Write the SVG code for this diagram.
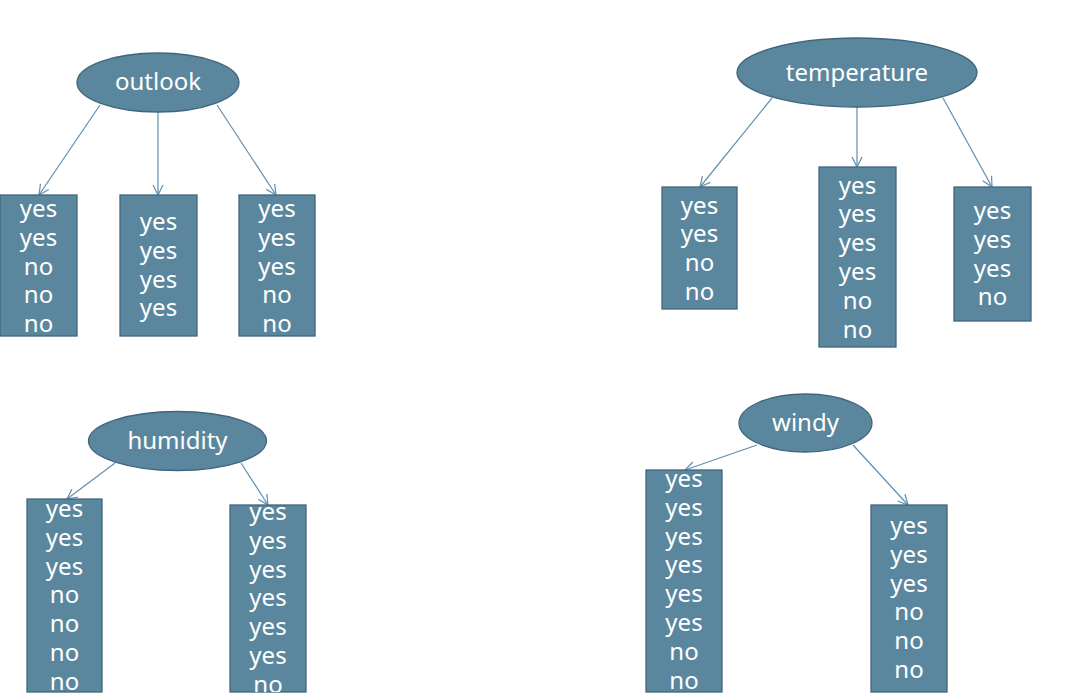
<svg xmlns="http://www.w3.org/2000/svg" width="1070" height="699" viewBox="0 0 1070 699">
<style>
.nd{fill:#5a879e;stroke:#41657c;stroke-width:1.3}
.t{font-family:"Noto Sans","Open Sans","DejaVu Sans",sans-serif;font-size:24px;fill:#ffffff;text-anchor:middle}
.c{stroke:#5e8fae;stroke-width:1.2;fill:none;marker-end:url(#ah)}
</style>
<defs>
<marker id="ah" viewBox="0 0 12 12" refX="11" refY="6" markerWidth="12" markerHeight="12" markerUnits="userSpaceOnUse" orient="auto">
<path d="M1,1 L11,6 L1,11" fill="none" stroke="#5e8fae" stroke-width="1.2"/>
</marker>
<clipPath id="clipH2"><rect x="230" y="505" width="76" height="187"/></clipPath>
<clipPath id="clipW1"><rect x="646" y="470" width="76" height="222"/></clipPath>
</defs>
<rect width="1070" height="699" fill="#ffffff"/>
<g id="connectors">
<line class="c" x1="100" y1="105" x2="39" y2="195"/>
<line class="c" x1="158" y1="112" x2="158" y2="195"/>
<line class="c" x1="217" y1="105" x2="276" y2="195"/>
<line class="c" x1="772" y1="98" x2="700" y2="187"/>
<line class="c" x1="857" y1="107" x2="857" y2="167"/>
<line class="c" x1="943" y1="98" x2="992" y2="187"/>
<line class="c" x1="115" y1="463" x2="67" y2="499"/>
<line class="c" x1="241" y1="463" x2="268" y2="505"/>
<line class="c" x1="757" y1="445" x2="685" y2="470"/>
<line class="c" x1="853" y1="445" x2="908" y2="505"/>
</g>
<g id="outlook"><ellipse class="nd" cx="158" cy="82.5" rx="81" ry="29.5"/><text class="t" x="158" y="90">outlook</text></g>
<g id="outlook-1"><rect class="nd" x="0" y="195" width="77" height="141"/>
<text class="t" x="38.5" y="217">yes</text><text class="t" x="38.5" y="245.8">yes</text><text class="t" x="38.5" y="274.6">no</text><text class="t" x="38.5" y="303.4">no</text><text class="t" x="38.5" y="332">no</text></g>
<g id="outlook-2"><rect class="nd" x="120" y="195" width="77" height="141"/>
<text class="t" x="158.5" y="230">yes</text><text class="t" x="158.5" y="258.8">yes</text><text class="t" x="158.5" y="287.6">yes</text><text class="t" x="158.5" y="316.4">yes</text></g>
<g id="outlook-3"><rect class="nd" x="239" y="195" width="76" height="141"/>
<text class="t" x="277" y="217">yes</text><text class="t" x="277" y="245.8">yes</text><text class="t" x="277" y="274.6">yes</text><text class="t" x="277" y="303.4">no</text><text class="t" x="277" y="332">no</text></g>
<g id="temperature"><ellipse class="nd" cx="857" cy="72.5" rx="120" ry="34.5"/><text class="t" x="857" y="80.5">temperature</text></g>
<g id="temperature-1"><rect class="nd" x="662" y="187" width="75" height="122"/>
<text class="t" x="699.5" y="213.5">yes</text><text class="t" x="699.5" y="242.3">yes</text><text class="t" x="699.5" y="271.1">no</text><text class="t" x="699.5" y="299.9">no</text></g>
<g id="temperature-2"><rect class="nd" x="819" y="167" width="77" height="180"/>
<text class="t" x="857.5" y="193.5">yes</text><text class="t" x="857.5" y="222.3">yes</text><text class="t" x="857.5" y="251.1">yes</text><text class="t" x="857.5" y="279.9">yes</text><text class="t" x="857.5" y="308.7">no</text><text class="t" x="857.5" y="337.5">no</text></g>
<g id="temperature-3"><rect class="nd" x="954" y="187" width="77" height="134"/>
<text class="t" x="992.5" y="219">yes</text><text class="t" x="992.5" y="247.8">yes</text><text class="t" x="992.5" y="276.6">yes</text><text class="t" x="992.5" y="305.4">no</text></g>
<g id="humidity"><ellipse class="nd" cx="177.5" cy="441" rx="89" ry="29.5"/><text class="t" x="177.5" y="448.5">humidity</text></g>
<g id="humidity-1"><rect class="nd" x="27" y="499" width="75" height="193"/>
<text class="t" x="64.5" y="517">yes</text><text class="t" x="64.5" y="545.8">yes</text><text class="t" x="64.5" y="574.6">yes</text><text class="t" x="64.5" y="603.4">no</text><text class="t" x="64.5" y="632.2">no</text><text class="t" x="64.5" y="661">no</text><text class="t" x="64.5" y="689.5">no</text></g>
<g id="humidity-2"><rect class="nd" x="230" y="505" width="76" height="187"/>
<g clip-path="url(#clipH2)"><text class="t" x="268" y="520">yes</text><text class="t" x="268" y="548.8">yes</text><text class="t" x="268" y="577.6">yes</text><text class="t" x="268" y="606.4">yes</text><text class="t" x="268" y="635.2">yes</text><text class="t" x="268" y="664">yes</text><text class="t" x="268" y="693">no</text></g></g>
<g id="windy"><ellipse class="nd" cx="805.5" cy="423" rx="66.5" ry="29"/><text class="t" x="805.5" y="430.5">windy</text></g>
<g id="windy-1"><rect class="nd" x="646" y="470" width="76" height="222"/>
<g clip-path="url(#clipW1)"><text class="t" x="684" y="487">yes</text><text class="t" x="684" y="515.8">yes</text><text class="t" x="684" y="544.6">yes</text><text class="t" x="684" y="573.4">yes</text><text class="t" x="684" y="602.2">yes</text><text class="t" x="684" y="631">yes</text><text class="t" x="684" y="659.8">no</text><text class="t" x="684" y="688.6">no</text></g></g>
<g id="windy-2"><rect class="nd" x="871" y="505" width="76" height="187"/>
<text class="t" x="909" y="534">yes</text><text class="t" x="909" y="562.8">yes</text><text class="t" x="909" y="591.6">yes</text><text class="t" x="909" y="620.4">no</text><text class="t" x="909" y="649.2">no</text><text class="t" x="909" y="678">no</text></g>
</svg>
